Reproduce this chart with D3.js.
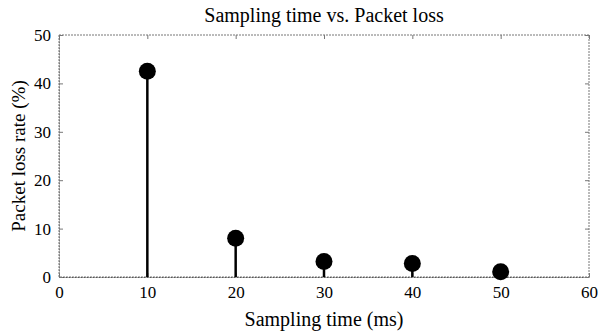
<!DOCTYPE html>
<html>
<head>
<meta charset="utf-8">
<script src="https://cdn.jsdelivr.net/npm/d3@7"></script>
<style>
  body { margin: 0; background: #fff; }
  text { font-family: "Liberation Serif", "Times New Roman", serif; fill: #000; }
</style>
</head>
<body>
<div id="chart"></div>
<script>
// data
const samplingTime = [10, 20, 30, 40, 50];
const lossRate = [42.5, 8.0, 3.2, 2.8, 1.1];
const xTicks = [0, 10, 20, 30, 40, 50, 60];
const yTicks = [0, 10, 20, 30, 40, 50];

const serif = "Liberation Serif, Times New Roman, serif";

const margin = {top: 35, right: 11, bottom: 59, left: 59};
const width = 600 - margin.left - margin.right;
const height = 336 - margin.top - margin.bottom;

const svg = d3.select("#chart").append("svg")
    .attr("width", 600)
    .attr("height", 336);

const chart = svg.append("g")
    .attr("transform", "translate(" + margin.left + "," + margin.top + ")");

const x = d3.scaleLinear().domain([0, 60]).range([0, width]);
const y = d3.scaleLinear().domain([0, 50]).range([height, 0]);

// dotted box round the plot
chart.append("rect")
    .attr("x", 0).attr("y", 0)
    .attr("width", width).attr("height", height)
    .attr("fill", "none")
    .attr("stroke", "#777")
    .attr("stroke-width", 1)
    .attr("stroke-dasharray", "2,1");

// bottom axis, ticks pointing inward
const xAxis = chart.append("g")
    .attr("transform", "translate(0," + height + ")")
    .call(d3.axisBottom(x).tickValues(xTicks).tickSizeInner(-4).tickSizeOuter(0).tickPadding(9))
    .attr("font-family", serif)
    .attr("font-size", 17);
xAxis.select(".domain").attr("stroke", "#555").attr("stroke-dasharray", "2,1");
xAxis.selectAll("line").attr("stroke", "#777");

const yAxis = chart.append("g")
    .call(d3.axisLeft(y).tickValues(yTicks).tickSizeInner(-4).tickSizeOuter(0).tickPadding(8))
    .attr("font-family", serif)
    .attr("font-size", 17);
yAxis.select(".domain").attr("stroke", "#777").attr("stroke-dasharray", "2,1");
yAxis.selectAll("line").attr("stroke", "#777");

// top and right ticks
chart.append("g")
    .call(d3.axisTop(x).tickValues(xTicks).tickSizeInner(-4).tickSizeOuter(0).tickFormat(""))
    .call(g => g.select(".domain").remove())
    .selectAll("line").attr("stroke", "#777");
chart.append("g")
    .attr("transform", "translate(" + width + ",0)")
    .call(d3.axisRight(y).tickValues(yTicks).tickSizeInner(-4).tickSizeOuter(0).tickFormat(""))
    .call(g => g.select(".domain").remove())
    .selectAll("line").attr("stroke", "#777");

// stems
chart.selectAll(".stem")
    .data(samplingTime)
    .enter().append("line")
    .attr("class", "stem")
    .attr("x1", d => x(d))
    .attr("x2", d => x(d))
    .attr("y1", y(0))
    .attr("y2", (d, i) => y(lossRate[i]))
    .attr("stroke", "#000")
    .attr("stroke-width", 2.5);

// markers
chart.selectAll(".dot")
    .data(samplingTime)
    .enter().append("circle")
    .attr("class", "dot")
    .attr("cx", d => x(d))
    .attr("cy", (d, i) => y(lossRate[i]))
    .attr("r", 8.5)
    .attr("fill", "#000");

// title and labels
svg.append("text")
    .attr("x", margin.left + width / 2)
    .attr("y", 22)
    .attr("text-anchor", "middle")
    .attr("font-size", 20)
    .text("Sampling time vs. Packet loss");

svg.append("text")
    .attr("x", margin.left + width / 2)
    .attr("y", 326)
    .attr("text-anchor", "middle")
    .attr("font-size", 20)
    .text("Sampling time (ms)");

svg.append("text")
    .attr("transform", "rotate(-90)")
    .attr("x", -(margin.top + height / 2))
    .attr("y", 25)
    .attr("text-anchor", "middle")
    .attr("font-size", 19)
    .text("Packet loss rate (%)");
</script>
</body>
</html>
